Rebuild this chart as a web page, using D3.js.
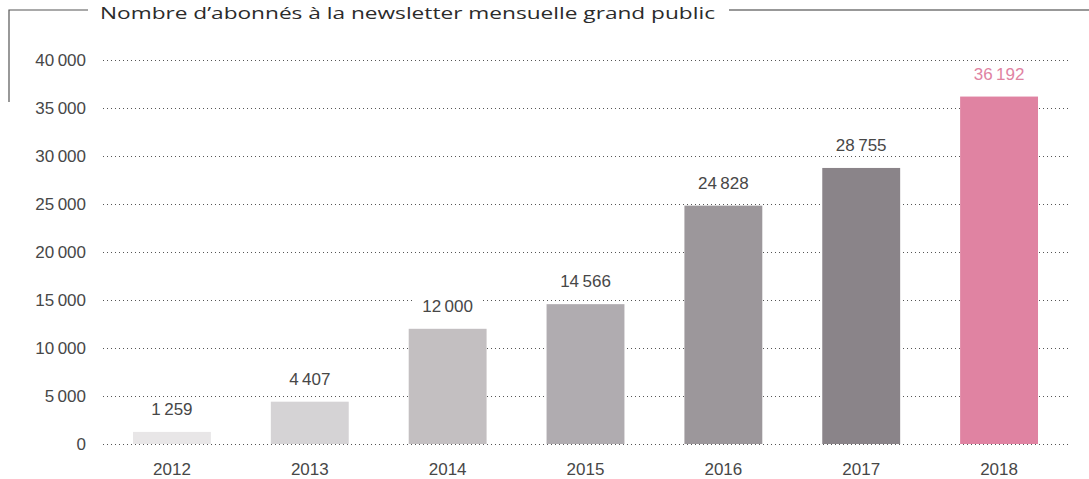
<!DOCTYPE html>
<html>
<head>
<meta charset="utf-8">
<script src="https://cdn.jsdelivr.net/npm/d3@7"></script>
<style>
  body { margin: 0; background: #fff; }
</style>
</head>
<body>
<svg id="bar_chart"></svg>
<script>
let years = ["2012", "2013", "2014", "2015", "2016", "2017", "2018"];
let subscribers = [1259, 4407, 12000, 14566, 24828, 28755, 36192];
let barColors = ["#e8e6e7", "#d5d3d5", "#c3bfc1", "#b0acb0", "#9c979b", "#8a8489", "#e083a2"];
let yTicks = [0, 5000, 10000, 15000, 20000, 25000, 30000, 35000, 40000];
let title = "Nombre d’abonnés à la newsletter mensuelle grand public";

// French style thousands: thin space
let fmt = v => d3.format(",")(v).replace(/,/g, "\u2009");
let numFont = '"Liberation Sans", Arial, sans-serif';

function makeBarChart() {
    let w = 1089;
    let h = 479;

    let svg = d3.select('#bar_chart')
        .attr('width', w)
        .attr('height', h);

    let yScale = d3.scaleLinear()
        .domain([0, 40000])
        .range([444, 60]);

    let xScale = d3.scaleBand()
        .domain(years)
        .range([103, 1068])
        .paddingInner(0.435)
        .paddingOuter(0.2175);

    // frame: title line + left bracket
    let tw = 615;
    svg.append('text')
        .attr('x', 100)
        .attr('y', 19)
        .style('font-family', '"Open Sans", sans-serif')
        .style('font-size', '17px')
        .attr('fill', '#2b2b2b')
        .attr('textLength', tw)
        .attr('lengthAdjust', 'spacingAndGlyphs')
        .text(title);

    svg.append('path')
        .attr('d', `M9,102 V10 H88`)
        .attr('fill', 'none')
        .attr('stroke', '#555')
        .attr('stroke-width', 1.2);
    svg.append('line')
        .attr('x1', 100 + tw + 14).attr('x2', w)
        .attr('y1', 10).attr('y2', 10)
        .attr('stroke', '#333')
        .attr('stroke-width', 1.2);

    // grid
    svg.append('g')
        .selectAll('line')
        .data(yTicks)
        .join('line')
        .attr('x1', 103).attr('x2', 1068)
        .attr('y1', d => Math.round(yScale(d)) + 0.5)
        .attr('y2', d => Math.round(yScale(d)) + 0.5)
        .attr('stroke', '#555')
        .attr('stroke-width', 1)
        .attr('stroke-dasharray', '1,3');

    let yAxis = d3.axisLeft(yScale)
        .tickValues(yTicks)
        .tickSize(0)
        .tickPadding(0)
        .tickFormat(fmt);
    let yAxisGroup = svg.append('g')
        .attr('transform', 'translate(86,0)')
        .call(yAxis);
    yAxisGroup.select('.domain').remove();
    yAxisGroup.selectAll('text')
        .style('font-family', numFont)
        .style('font-size', '17px')
        .attr('fill', '#474747');

    // bars
    svg.append('g')
        .selectAll('rect')
        .data(subscribers)
        .join('rect')
        .attr('x', (d, i) => xScale(years[i]))
        .attr('width', xScale.bandwidth())
        .attr('y', d => yScale(d))
        .attr('height', d => yScale(0) - yScale(d))
        .attr('fill', (d, i) => barColors[i]);

    // value labels with white backing
    let labels = svg.append('g')
        .selectAll('g')
        .data(subscribers)
        .join('g')
        .attr('transform', (d, i) => `translate(${xScale(years[i]) + xScale.bandwidth() / 2},${yScale(d) - 17})`);
    labels.each(function(d, i) {
        let g = d3.select(this);
        let t = g.append('text')
            .attr('text-anchor', 'middle')
            .style('font-family', numFont)
            .style('font-size', '17px')
            .attr('fill', i === years.length - 1 ? '#e083a2' : '#474747')
            .text(fmt(d));
        let bw = t.node().getComputedTextLength();
        g.insert('rect', 'text')
            .attr('x', -bw / 2 - 8)
            .attr('y', -15)
            .attr('width', bw + 16)
            .attr('height', 19)
            .attr('fill', '#fff');
    });

    let xAxis = d3.axisBottom(xScale)
        .tickSize(0)
        .tickPadding(0);
    let xAxisGroup = svg.append('g')
        .attr('transform', 'translate(0,463)')
        .call(xAxis);
    xAxisGroup.select('.domain').remove();
    xAxisGroup.selectAll('text')
        .style('font-family', numFont)
        .style('font-size', '17px')
        .attr('fill', '#474747');
}

window.onload = function() {
    makeBarChart();
};
</script>
</body>
</html>
